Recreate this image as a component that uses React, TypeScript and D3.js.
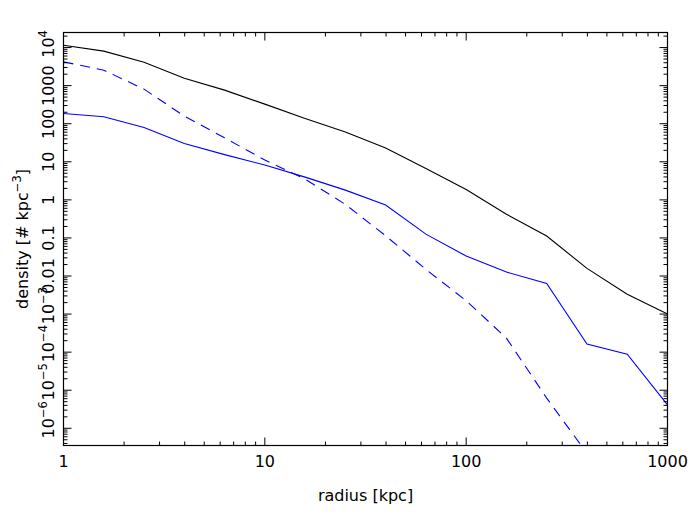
import React from "react";
import * as d3 from "d3";

// radius bins [kpc], 5 per decade
const radius = [1, 1.585, 2.512, 3.981, 6.31, 10, 15.85, 25.12, 39.81, 63.1, 100, 158.5, 251.2, 398.1, 631, 1000];

// density [# kpc^-3]
const totalDensity = [11560, 8050, 4140, 1570, 762, 327, 138, 61, 22.9, 6.7, 1.88, 0.42, 0.112, 0.0159, 0.0033, 0.001];
const solidBlueDensity = [186, 152, 80, 30.3, 15.4, 8.2, 3.96, 1.8, 0.73, 0.126, 0.0334, 0.0127, 0.0064, 1.63e-4, 8.8e-5, 4.1e-6];
const dashedBlueDensity = [4220, 2550, 810, 158, 42.6, 11.1, 3.5, 0.76, 0.114, 0.0149, 0.00224, 2.34e-4, 6.2e-6, 2.2e-7];

const xTickValues = [1, 10, 100, 1000];
const xTickLabels = ["1", "10", "100", "1000"];
const yTickValues = [1e-6, 1e-5, 1e-4, 1e-3, 0.01, 0.1, 1, 10, 100, 1000, 1e4];
const yTickLabels = ["10^−6", "10^−5", "10^−4", "10^−3", "0.01", "0.1", "1", "10", "100", "1000", "10^4"];

const W = 693;
const H = 518;
const left = 63.5, right = 667.5, top = 32.5, bottom = 445.5;
const font = "'DejaVu Sans', sans-serif";
const fs = 16;
const supFs = 11.5;

// minor ticks 2..9 per decade inside a log domain
function minorTicks(lo: number, hi: number) {
  const out: number[] = [];
  for (let k = Math.floor(Math.log10(lo)); k <= Math.ceil(Math.log10(hi)); k++) {
    for (let m = 2; m <= 9; m++) {
      const v = m * Math.pow(10, k);
      if (v > lo && v < hi) out.push(v);
    }
  }
  return out;
}

export default function App() {
  const x = d3.scaleLog().domain([1, 1000]).range([left, right]);
  const yDomain: [number, number] = [Math.pow(10, -6.452), Math.pow(10, 4.396)];
  const y = d3.scaleLog().domain(yDomain).range([bottom, top]);

  const line = d3.line<[number, number]>()
    .x((d) => x(d[0]))
    .y((d) => y(d[1]));

  const xMinor = minorTicks(1, 1000);
  const yMinor = minorTicks(yDomain[0], yDomain[1]);
  const major = 8, minor = 4;

  const series = [
    { values: totalDensity, color: "#000000", dash: undefined },
    { values: solidBlueDensity, color: "#0000ff", dash: undefined },
    { values: dashedBlueDensity, color: "#0000ff", dash: "10,7" },
  ];

  return (
    <div style={{ position: "fixed", left: 0, top: 0 }}>
      <svg width={W} height={H} style={{ display: "block", background: "#fff" }} fontFamily={font}>
        <defs>
          <clipPath id="plot">
            <rect x={left} y={top} width={right - left} height={bottom - top} />
          </clipPath>
        </defs>

        {/* data */}
        <g clipPath="url(#plot)" fill="none">
          {series.map((s, i) => (
            <path
              key={i}
              d={line(s.values.map((v, j) => [radius[j], v] as [number, number])) || ""}
              stroke={s.color}
              strokeWidth={1.1}
              strokeDasharray={s.dash}
            />
          ))}
        </g>

        {/* frame */}
        <rect x={left} y={top} width={right - left} height={bottom - top} fill="none" stroke="#000" strokeWidth={1.2} />

        {/* ticks on all four sides, pointing inward */}
        <g stroke="#000" strokeWidth={1}>
          {xTickValues.map((v) => (
            <g key={"xm" + v}>
              <line x1={x(v)} x2={x(v)} y1={bottom} y2={bottom - major} />
              <line x1={x(v)} x2={x(v)} y1={top} y2={top + major} />
            </g>
          ))}
          {xMinor.map((v) => (
            <g key={"xn" + v}>
              <line x1={x(v)} x2={x(v)} y1={bottom} y2={bottom - minor} />
              <line x1={x(v)} x2={x(v)} y1={top} y2={top + minor} />
            </g>
          ))}
          {yTickValues.map((v) => (
            <g key={"ym" + v}>
              <line x1={left} x2={left + major} y1={y(v)} y2={y(v)} />
              <line x1={right} x2={right - major} y1={y(v)} y2={y(v)} />
            </g>
          ))}
          {yMinor.map((v) => (
            <g key={"yn" + v}>
              <line x1={left} x2={left + minor} y1={y(v)} y2={y(v)} />
              <line x1={right} x2={right - minor} y1={y(v)} y2={y(v)} />
            </g>
          ))}
        </g>

        {/* x tick labels */}
        {xTickValues.map((v, i) => (
          <text key={"xl" + v} x={x(v)} y={467} textAnchor="middle" fontSize={fs} fill="#000">
            {xTickLabels[i]}
          </text>
        ))}

        {/* y tick labels, rotated */}
        {yTickValues.map((v, i) => {
          const [base, sup] = yTickLabels[i].split("^");
          return (
            <g key={"yl" + v} transform={`translate(53.5,${y(v)}) rotate(-90)`} fill="#000">
              <text x={0} y={0} textAnchor="middle" fontSize={fs}>{base}</text>
              {sup && (
                <text x={10.2} y={-7} textAnchor="start" fontSize={supFs}>{sup}</text>
              )}
            </g>
          );
        })}

        {/* axis titles */}
        <text x={(left + right) / 2} y={500.5} textAnchor="middle" fontSize={fs} fill="#000">
          radius [kpc]
        </text>
        <text
          transform={`translate(28,${(top + bottom) / 2}) rotate(-90)`}
          textAnchor="middle"
          fontSize={fs}
          fill="#000"
        >
          density [# kpc<tspan dy={-7} fontSize={supFs}>−3</tspan><tspan dy={7}>]</tspan>
        </text>
      </svg>
    </div>
  );
}
